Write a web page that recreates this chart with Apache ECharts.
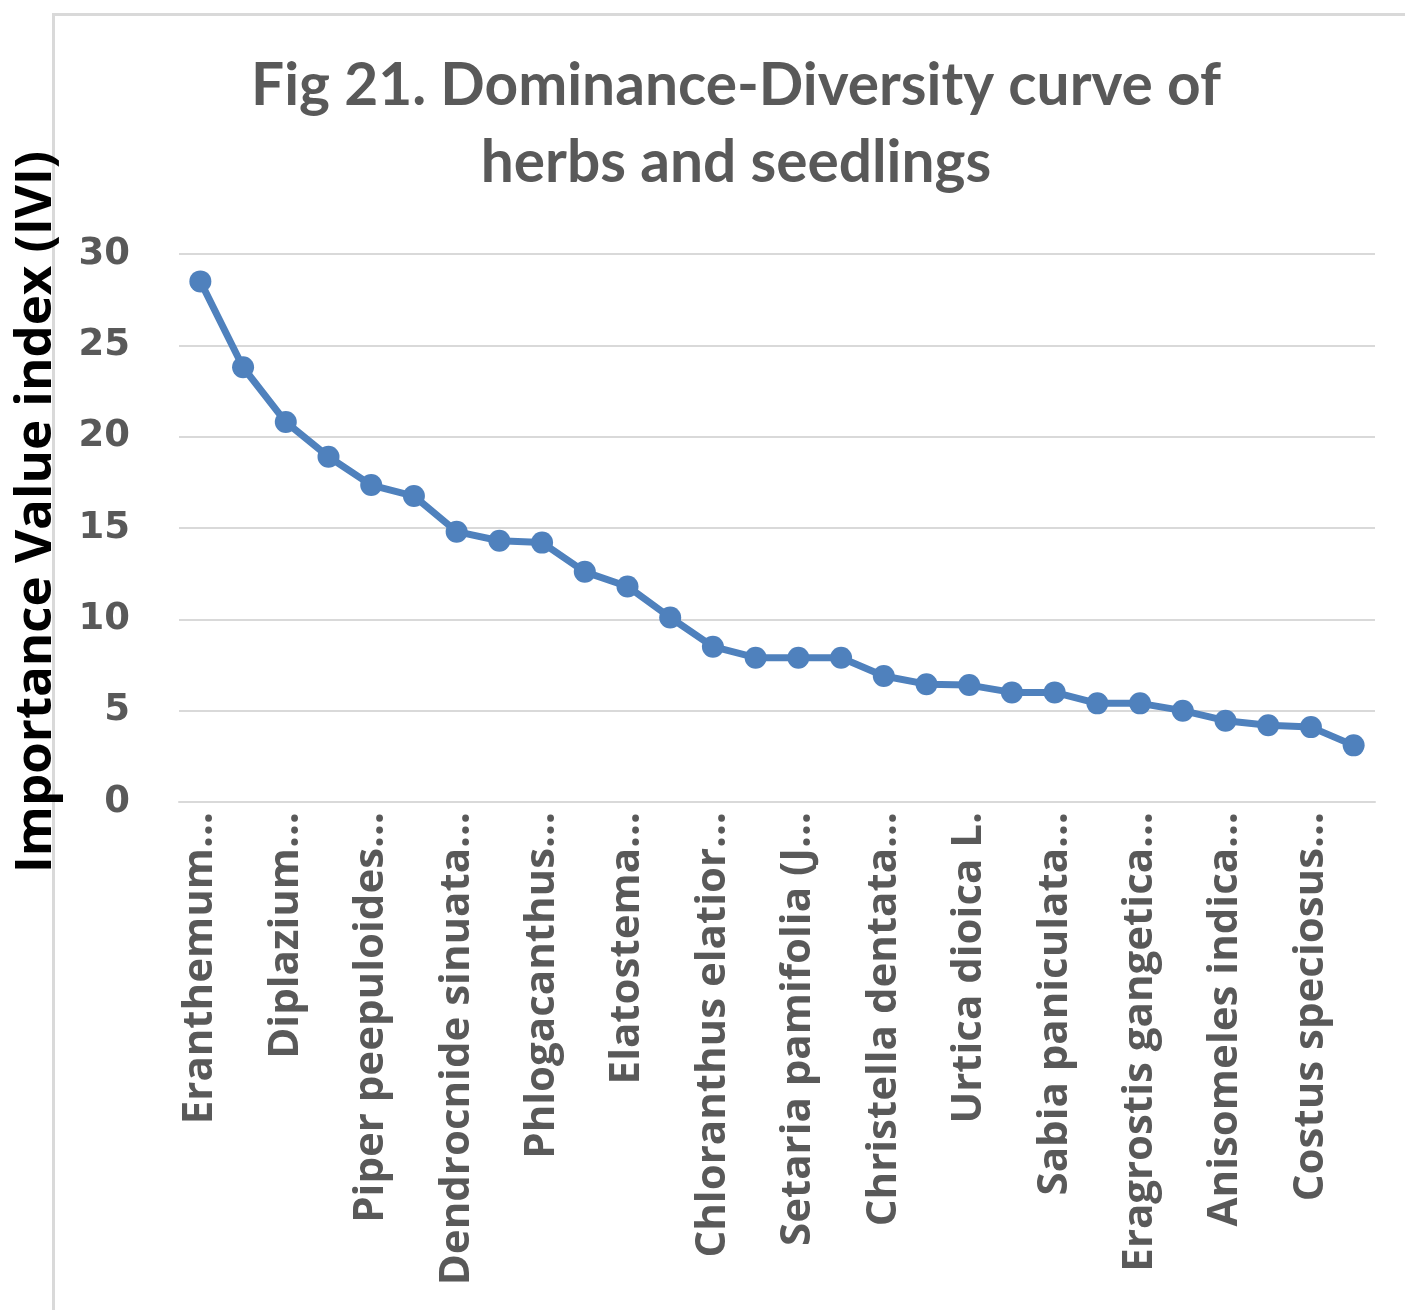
<!DOCTYPE html>
<html>
<head>
<meta charset="utf-8">
<title>Dominance-Diversity curve of herbs and seedlings</title>
<script src="https://cdn.jsdelivr.net/npm/echarts@6/dist/echarts.min.js"></script>
<style>
  html, body { margin: 0; padding: 0; background: #ffffff; }
  #chart { width: 1405px; height: 1310px; }
</style>
</head>
<body>
<div id="chart"></div>
<script>
// Species ranked by Importance Value Index (labels as shown on the axis)
const species = [
  'Eranthemum\u2026', 'Ageratum conyzoides', 'Diplazium\u2026', 'Oplismenus\u2026',
  'Piper peepuloides\u2026', 'Commelina\u2026', 'Dendrocnide sinuata\u2026', 'Mikania\u2026',
  'Phlogacanthus\u2026', 'Centella\u2026', 'Elatostema\u2026', 'Begonia\u2026',
  'Chloranthus elatior\u2026', 'Pteris\u2026', 'Setaria pamifolia (J\u2026', 'Selaginella\u2026',
  'Christella dentata\u2026', 'Hedychium\u2026', 'Urtica dioica L.', 'Cyrtococcum\u2026',
  'Sabia paniculata\u2026', 'Drymaria\u2026', 'Eragrostis gangetica\u2026', 'Oxalis\u2026',
  'Anisomeles indica\u2026', 'Bidens\u2026', 'Costus speciosus\u2026', 'Clerodendrum\u2026'
];

// Importance Value Index of each species
const ivi = [
  28.5, 23.8, 20.8, 18.9, 17.35, 16.75, 14.8, 14.3,
  14.2, 12.6, 11.8, 10.1, 8.5, 7.9, 7.9, 7.9,
  6.9, 6.45, 6.4, 6.0, 6.0, 5.4, 5.4, 5.0,
  4.45, 4.2, 4.1, 3.1
];

// Value axis ticks
const yTicks = { min: 0, max: 30, interval: 5 };

const chart = echarts.init(document.getElementById('chart'), null, { renderer: 'canvas' });

chart.setOption({
  backgroundColor: '#ffffff',
  animation: false,
  graphic: [
    {
      // chart area frame
      type: 'rect',
      left: 51, top: 12,
      shape: { width: 1400, height: 1340 },
      style: { fill: 'none', stroke: '#d9d9d9', lineWidth: 3 },
      silent: true
    }
  ],
  title: {
    text: 'Fig 21. Dominance-Diversity curve of\nherbs and seedlings',
    left: 731,
    textAlign: 'center',
    top: 43,
    textStyle: {
      fontFamily: 'Lato',
      fontWeight: 'bold',
      fontSize: 58.6,
      lineHeight: 77,
      color: '#595959'
    }
  },
  grid: {
    left: 179,
    right: 30,
    top: 254,
    bottom: 508,
    containLabel: false,
    outerBoundsMode: 'none'
  },
  xAxis: {
    type: 'category',
    data: species,
    boundaryGap: true,
    axisLine: { show: true, lineStyle: { color: '#d9d9d9', width: 2 } },
    axisTick: { show: false },
    axisLabel: {
      interval: 1,
      rotate: 90,
      margin: 10,
      color: '#595959',
      fontFamily: 'Open Sans',
      fontWeight: 'bold',
      fontSize: 42
    },
    splitLine: { show: false }
  },
  yAxis: {
    type: 'value',
    min: yTicks.min,
    max: yTicks.max,
    interval: yTicks.interval,
    name: 'Importance Value index (IVI)',
    nameLocation: 'middle',
    nameRotate: 90,
    nameGap: 117,
    nameTextStyle: {
      color: '#000000',
      fontFamily: 'Open Sans',
      fontWeight: 'bold',
      fontSize: 51,
      padding: [0, 0, 0, 32]
    },
    axisLine: { show: false },
    axisTick: { show: false },
    axisLabel: {
      margin: 49,
      color: '#595959',
      fontFamily: 'DejaVu Sans',
      fontWeight: 'bold',
      fontSize: 37
    },
    splitLine: { show: true, lineStyle: { color: '#d9d9d9', width: 2 } }
  },
  series: [
    {
      type: 'line',
      data: ivi,
      symbol: 'circle',
      symbolSize: 22,
      lineStyle: { color: '#4f81bd', width: 7 },
      itemStyle: { color: '#4f81bd' },
      emphasis: { disabled: true }
    }
  ]
});
</script>
</body>
</html>
